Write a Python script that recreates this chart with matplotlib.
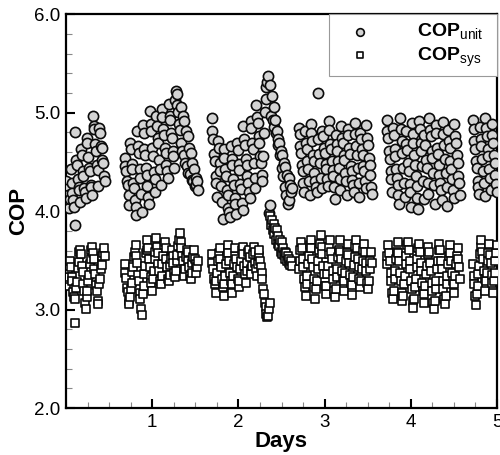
import numpy as np
import matplotlib
matplotlib.use('Agg')
import matplotlib.pyplot as plt
from matplotlib.ticker import MultipleLocator

plt.rcParams['font.family'] = ['Liberation Sans', 'DejaVu Sans']
plt.rcParams['mathtext.fontset'] = 'custom'
plt.rcParams['mathtext.rm'] = 'Liberation Sans'
plt.rcParams['mathtext.bf'] = 'Liberation Sans:bold'

# measurement periods (day start, day end), one per day, gap at night
seg_days = [(0.00, 0.45), (0.68, 1.53), (1.69, 2.62), (2.70, 3.55), (3.72, 4.57), (4.72, 5.00)]

cop_unit = [
    [4.31, 4.22, 4.16, 4.08, 4.03, 4.12,
     4.43, 4.29, 4.18, 4.11, 4.04, 3.86,
     4.80, 4.52, 4.47, 4.33, 4.24, 4.21, 4.09,
     4.63, 4.57, 4.41, 4.36, 4.23, 4.19, 4.13,
     4.74, 4.69, 4.55, 4.44, 4.41, 4.27, 4.24, 4.16,
     4.97, 4.86, 4.83, 4.68, 4.61, 4.47, 4.42, 4.26,
     4.84, 4.79, 4.66, 4.64, 4.52, 4.49, 4.36, 4.31],
    [4.54, 4.46, 4.41, 4.31, 4.27, 4.16, 4.06,
     4.69, 4.63, 4.48, 4.43, 4.29, 4.23, 4.11, 4.04, 3.96,
     4.81, 4.66, 4.59, 4.43, 4.34, 4.17, 3.99,
     4.87, 4.79, 4.63, 4.57, 4.44, 4.37, 4.26, 4.14, 4.07,
     5.02, 4.88, 4.81, 4.64, 4.56, 4.40, 4.33, 4.19,
     4.97, 4.86, 4.74, 4.69, 4.52, 4.43, 4.27,
     5.04, 4.96, 4.83, 4.77, 4.64, 4.59, 4.47, 4.41, 4.34,
     5.09, 4.97, 4.92, 4.79, 4.74, 4.61, 4.56, 4.44,
     5.13, 5.22, 5.19, 5.08, 5.01, 4.88, 4.82, 4.69,
     5.06, 4.61, 4.97, 4.57, 4.91, 4.49, 4.81, 4.46, 4.76, 4.39, 4.64,
     4.38, 4.59, 4.32, 4.49, 4.31, 4.43, 4.26, 4.34, 4.27, 4.31, 4.21],
    [4.95, 4.81, 4.73, 4.58, 4.51, 4.36, 4.29, 4.14,
     4.71, 4.64, 4.49, 4.41, 4.26, 4.09, 3.92,
     4.63, 4.54, 4.43, 4.36, 4.21, 4.16, 4.03, 3.99, 3.94,
     4.66, 4.53, 4.47, 4.33, 4.27, 4.13, 4.07, 3.97,
     4.69, 4.62, 4.48, 4.42, 4.28, 4.22, 4.08, 4.01,
     4.86, 4.73, 4.67, 4.53, 4.47, 4.36, 4.29, 4.19, 4.13,
     4.91, 4.84, 4.69, 4.63, 4.49, 4.34, 4.23,
     5.08, 4.96, 4.89, 4.76, 4.69, 4.56, 4.49, 4.37,
     4.31, 4.56, 4.79, 5.01, 5.14, 5.26, 5.31, 5.37, 3.98, 4.06,
     5.28, 4.97, 5.17, 4.93, 5.06, 4.85, 4.93, 4.79, 4.81, 4.73,
     4.67, 4.69, 4.57, 4.61, 4.44, 4.57, 4.36, 4.49, 4.24, 4.45,
     4.16, 4.37, 4.07, 4.34, 4.11, 4.27, 4.19, 4.23],
    [4.84, 4.78, 4.66, 4.59, 4.47, 4.41, 4.29, 4.19,
     4.81, 4.69, 4.63, 4.51, 4.43, 4.31, 4.16,
     4.88, 4.79, 4.71, 4.57, 4.51, 4.39, 4.31, 4.24, 4.19,
     5.20, 4.73, 4.58, 4.49, 4.34, 4.23,
     4.81, 4.76, 4.64, 4.59, 4.48, 4.43, 4.33, 4.26,
     4.91, 4.82, 4.68, 4.63, 4.51, 4.42, 4.36, 4.24, 4.12,
     4.77, 4.68, 4.61, 4.51, 4.44, 4.33, 4.21,
     4.86, 4.74, 4.69, 4.57, 4.52, 4.39, 4.31, 4.16,
     4.83, 4.77, 4.64, 4.58, 4.46, 4.41, 4.32, 4.27, 4.19,
     4.89, 4.78, 4.66, 4.57, 4.44, 4.29, 4.14,
     4.79, 4.73, 4.63, 4.57, 4.46, 4.41, 4.31, 4.23,
     4.87, 4.74, 4.67, 4.54, 4.47, 4.37, 4.24, 4.17],
    [4.93, 4.81, 4.74, 4.61, 4.53, 4.41, 4.33, 4.19,
     4.84, 4.77, 4.63, 4.56, 4.43, 4.34, 4.27, 4.16, 4.07,
     4.95, 4.83, 4.71, 4.59, 4.44, 4.29, 4.14,
     4.81, 4.68, 4.62, 4.49, 4.41, 4.28, 4.19, 4.04,
     4.89, 4.78, 4.69, 4.57, 4.47, 4.36, 4.26, 4.13, 4.02,
     4.91, 4.83, 4.69, 4.61, 4.46, 4.31, 4.12,
     4.77, 4.67, 4.52, 4.44, 4.29, 4.17,
     4.95, 4.82, 4.76, 4.61, 4.54, 4.39, 4.27, 4.07,
     4.87, 4.79, 4.64, 4.58, 4.47, 4.37, 4.29, 4.21, 4.11,
     4.90, 4.78, 4.67, 4.53, 4.39, 4.24, 4.05,
     4.82, 4.71, 4.64, 4.51, 4.43, 4.33, 4.21, 4.13,
     4.88, 4.76, 4.69, 4.57, 4.49, 4.36, 4.29, 4.16],
    [4.92, 4.83, 4.71, 4.63, 4.51, 4.44, 4.31, 4.24, 4.17,
     4.85, 4.73, 4.66, 4.53, 4.41, 4.29, 4.15,
     4.95, 4.84, 4.76, 4.63, 4.56, 4.43, 4.34, 4.21,
     4.88, 4.77, 4.69, 4.57, 4.49, 4.37, 4.28, 4.19],
]

cop_sys = [
    [3.24, 3.31, 3.33, 3.41, 3.44, 3.49,
     3.43, 3.33, 3.29, 3.18, 3.13, 2.86,
     3.11, 3.22, 3.28, 3.42, 3.48, 3.59, 3.61,
     3.56, 3.44, 3.38, 3.26, 3.19, 3.07, 3.01,
     3.13, 3.19, 3.29, 3.35, 3.46, 3.51, 3.61, 3.64,
     3.57, 3.51, 3.41, 3.36, 3.25, 3.19, 3.09, 3.06,
     3.26, 3.31, 3.41, 3.45, 3.54, 3.57, 3.63, 3.54],
    [3.46, 3.37, 3.32, 3.22, 3.18, 3.09, 3.06, 3.13,
     3.21, 3.27, 3.38, 3.43, 3.53, 3.59, 3.66, 3.54,
     3.47, 3.35, 3.29, 3.17, 3.11, 3.01, 2.95, 3.16,
     3.24, 3.36, 3.44, 3.57, 3.61, 3.71, 3.63, 3.51,
     3.43, 3.33, 3.27, 3.19, 3.31, 3.39, 3.51, 3.59,
     3.73, 3.64, 3.57, 3.46, 3.39, 3.29, 3.26, 3.34,
     3.46, 3.54, 3.66, 3.69, 3.63, 3.51, 3.43, 3.31,
     3.29, 3.35, 3.45, 3.51, 3.61, 3.54, 3.47, 3.37,
     3.33, 3.39, 3.49, 3.55, 3.65, 3.71, 3.78, 3.69,
     3.63, 3.54, 3.49, 3.39, 3.34, 3.41, 3.53, 3.61,
     3.59, 3.49, 3.43, 3.34, 3.31, 3.37, 3.47, 3.53,
     3.61, 3.51, 3.46, 3.37, 3.43, 3.49],
    [3.56, 3.47, 3.41, 3.31, 3.26, 3.17, 3.29, 3.37,
     3.49, 3.57, 3.63, 3.51, 3.43, 3.31, 3.23, 3.14,
     3.26, 3.34, 3.46, 3.54, 3.66, 3.57, 3.49, 3.37,
     3.29, 3.17, 3.26, 3.34, 3.46, 3.54, 3.63, 3.51,
     3.43, 3.31, 3.23, 3.29, 3.41, 3.49, 3.61, 3.64,
     3.56, 3.44, 3.36, 3.27, 3.39, 3.47, 3.59, 3.61,
     3.53, 3.41, 3.36, 3.44, 3.56, 3.64, 3.59, 3.47,
     3.41, 3.34, 3.46, 3.54, 3.61, 3.49, 3.43, 3.37,
     3.31, 3.21, 3.16, 3.07, 3.03, 2.96, 2.93, 2.94, 3.01, 3.07,
     3.95, 3.86, 3.91, 3.81, 3.87, 3.77, 3.83, 3.71, 3.81, 3.67,
     3.75, 3.65, 3.71, 3.59, 3.69, 3.56, 3.63, 3.55, 3.59, 3.51,
     3.57, 3.49, 3.54, 3.47, 3.51, 3.45, 3.49, 3.44],
    [3.41, 3.49, 3.61, 3.69, 3.63, 3.51, 3.43, 3.31,
     3.23, 3.14, 3.26, 3.34, 3.46, 3.54, 3.66, 3.71,
     3.63, 3.51, 3.43, 3.31, 3.23, 3.11, 3.21, 3.29,
     3.41, 3.49, 3.61, 3.67, 3.76, 3.64, 3.56, 3.44,
     3.36, 3.24, 3.16, 3.24, 3.36, 3.44, 3.56, 3.64,
     3.71, 3.59, 3.51, 3.39, 3.31, 3.19, 3.13, 3.21,
     3.33, 3.41, 3.53, 3.61, 3.71, 3.59, 3.51, 3.39,
     3.31, 3.19, 3.29, 3.37, 3.49, 3.57, 3.67, 3.55,
     3.47, 3.35, 3.27, 3.15, 3.25, 3.33, 3.45, 3.53,
     3.65, 3.71, 3.63, 3.51, 3.43, 3.31, 3.23, 3.29,
     3.41, 3.49, 3.61, 3.67, 3.59, 3.47, 3.39, 3.27,
     3.21, 3.29, 3.41, 3.49, 3.59, 3.47],
    [3.46, 3.54, 3.66, 3.57, 3.49, 3.37, 3.29, 3.17,
     3.11, 3.19, 3.31, 3.39, 3.51, 3.59, 3.69, 3.57,
     3.49, 3.37, 3.29, 3.17, 3.09, 3.14, 3.26, 3.34,
     3.46, 3.54, 3.66, 3.69, 3.61, 3.49, 3.41, 3.29,
     3.21, 3.09, 3.02, 3.11, 3.23, 3.31, 3.43, 3.51,
     3.63, 3.67, 3.59, 3.47, 3.39, 3.27, 3.19, 3.07,
     3.16, 3.24, 3.36, 3.44, 3.56, 3.64, 3.59, 3.47,
     3.39, 3.27, 3.19, 3.07, 3.01, 3.09, 3.21, 3.29,
     3.41, 3.49, 3.61, 3.67, 3.61, 3.49, 3.41, 3.29,
     3.21, 3.11, 3.06, 3.14, 3.26, 3.34, 3.46, 3.54,
     3.66, 3.57, 3.49, 3.37, 3.29, 3.17, 3.26, 3.34,
     3.46, 3.54, 3.63, 3.51, 3.43, 3.31],
    [3.46, 3.34, 3.26, 3.14, 3.05, 3.16, 3.24, 3.36,
     3.44, 3.56, 3.64, 3.71, 3.59, 3.51, 3.39, 3.31,
     3.19, 3.29, 3.37, 3.49, 3.57, 3.67, 3.55, 3.47,
     3.35, 3.27, 3.17, 3.29, 3.37, 3.49, 3.57, 3.66],
]

fig = plt.figure(figsize=(5.0, 4.55), dpi=100)
ax = fig.add_axes([0.132, 0.103, 0.862, 0.866])

for k, (d0, d1) in enumerate(seg_days):
    t_u = np.linspace(d0, d1, len(cop_unit[k]))
    t_s = np.linspace(d0, d1, len(cop_sys[k]))
    ax.scatter(t_u, cop_unit[k], s=54, marker='o', facecolor='#d4d4d4',
               edgecolor='#0a0a0a', linewidth=1.2, zorder=3,
               label=r'$\mathbf{COP}_{\mathrm{unit}}$  ' if k == 0 else None)
    ax.scatter(t_s, cop_sys[k], s=30, marker='s', facecolor='white',
               edgecolor='#0a0a0a', linewidth=1.2, zorder=3,
               label=r'$\mathbf{COP}_{\mathrm{sys}}$  ' if k == 0 else None)

ax.set_xlim(0, 5)
ax.set_ylim(2.0, 6.0)
ax.set_xticks([1, 2, 3, 4, 5])
ax.set_xticklabels(['1', '2', '3', '4', '5'])
ax.set_yticks([2, 3, 4, 5, 6])
ax.set_yticklabels(['2.0', '3.0', '4.0', '5.0', '6.0'])
ax.xaxis.set_minor_locator(MultipleLocator(0.25))
ax.yaxis.set_minor_locator(MultipleLocator(0.2))
ax.tick_params(which='major', direction='in', length=6.5, width=1.5,
               labelsize=13.5, pad=4, top=False, right=False)
ax.tick_params(which='minor', direction='in', length=4, width=0.8,
               color='#888888', top=False, right=False)
for sp in ax.spines.values():
    sp.set_linewidth(1.6)

ax.set_xlabel('Days', fontsize=16, fontweight='bold', labelpad=0)
ax.set_ylabel('COP', fontsize=16, fontweight='bold', labelpad=4)

leg = ax.legend(loc='upper right', borderaxespad=0, fancybox=False,
                edgecolor='#999999', framealpha=1, fontsize=14,
                handletextpad=1.7, borderpad=0.4, labelspacing=0.15,
                handlelength=2.4, markerscale=0.75)
leg.get_frame().set_linewidth(0.8)

fig.savefig('out.png', dpi=100)
